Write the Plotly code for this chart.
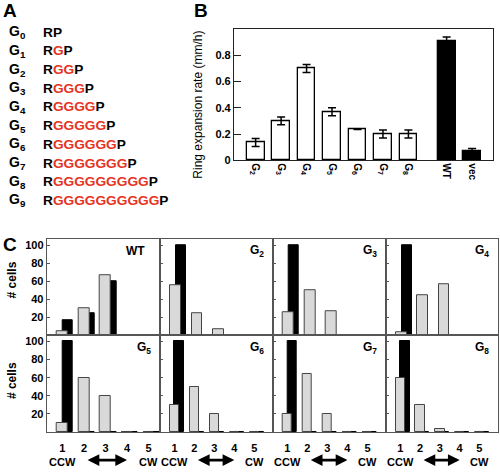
import plotly.graph_objects as go

W, H = 500, 472
FONT = "Liberation Sans, Arial, sans-serif"
RED = "#e53323"

# ---------------- Panel A data ----------------
construct_names = ["G0", "G1", "G2", "G3", "G4", "G5", "G6", "G7", "G8", "G9"]
glycine_counts = [0, 1, 2, 3, 4, 5, 6, 7, 9, 10]

# ---------------- Panel B data ----------------
b_categories = ["G2", "G3", "G4", "G5", "G6", "G7", "G8", "WT", "vec"]
b_labels = ["G<sub>2</sub>", "G<sub>3</sub>", "G<sub>4</sub>", "G<sub>5</sub>",
            "G<sub>6</sub>", "G<sub>7</sub>", "G<sub>8</sub>", "WT", "vec"]
b_rates = [0.135, 0.30, 0.70, 0.37, 0.235, 0.20, 0.20, 0.905, 0.07]
b_errors = [0.03, 0.03, 0.03, 0.03, 0.0, 0.03, 0.03, 0.035, 0.02]
b_is_control = [False, False, False, False, False, False, False, True, True]

# ---------------- Panel C data ----------------
c_panels = ["WT", "G<sub>2</sub>", "G<sub>3</sub>", "G<sub>4</sub>",
            "G<sub>5</sub>", "G<sub>6</sub>", "G<sub>7</sub>", "G<sub>8</sub>"]
c_bins = [1, 2, 3, 4, 5]
c_gray = [
    [4, 30, 67, 0, 0],
    [56, 24, 7, 0, 0],
    [26, 50, 27, 0, 0],
    [3, 44, 57, 0, 0],
    [10, 60, 40, 0, 0],
    [30, 50, 20, 0, 0],
    [20, 64, 20, 0, 0],
    [60, 30, 3, 0, 0],
]
c_black = [
    [17, 24, 60, 0, 0],
    [100, 0, 0, 0, 0],
    [100, 0, 0, 0, 0],
    [100, 0, 0, 0, 0],
    [100, 0, 0, 0, 0],
    [100, 0, 0, 0, 0],
    [100, 0, 0, 0, 0],
    [100, 0, 0, 0, 0],
]
c_yticks = [20, 40, 60, 80, 100]


def px(x):
    return x / W


def py(y):
    return 1 - y / H


fig = go.Figure()
annotations = []

# ---------------- Panel A ----------------
annotations.append(dict(text="A", x=px(1), y=py(11), xref="paper", yref="paper",
                        xanchor="left", yanchor="middle", showarrow=False,
                        font=dict(family=FONT, size=19, color="black", weight="bold")))
row0, drow = 32.5, 18.95
for i, (name, n) in enumerate(zip(construct_names, glycine_counts)):
    yy = py(row0 + drow * i)
    annotations.append(dict(text="G<sub>%s</sub>" % name[1:], x=px(7), y=yy,
                            xref="paper", yref="paper", xanchor="left", yanchor="middle",
                            showarrow=False,
                            font=dict(family=FONT, size=14, color="black", weight="bold")))
    seq = "R" + ("<span style='color:%s'>%s</span>" % (RED, "G" * n) if n else "") + "P"
    annotations.append(dict(text=seq, x=px(41), y=yy, xref="paper", yref="paper",
                            xanchor="left", yanchor="middle", showarrow=False,
                            font=dict(family=FONT, size=13.7, color="black", weight="bold")))

# ---------------- Panel B ----------------
b_pos = []
shift = 0.0
for i, c in enumerate(b_is_control):
    if c and (i == 0 or not b_is_control[i - 1]):
        shift = 0.5
    b_pos.append(i + shift)

fig.add_trace(go.Bar(
    x=b_pos, y=b_rates, width=0.7,
    marker=dict(color=["black" if c else "white" for c in b_is_control],
                line=dict(color="black", width=1.3)),
    error_y=dict(type="data", array=b_errors, visible=True, color="black",
                 thickness=1.5, width=4),
    xaxis="x", yaxis="y", showlegend=False))

fig.update_layout(
    xaxis=dict(domain=[px(234), px(492.7)], range=[-0.85, 9.31], anchor="y",
               tickvals=b_pos, ticktext=b_labels, tickangle=90, ticks="",
               tickfont=dict(family=FONT, size=10, color="black", weight="bold"),
               showline=True, mirror=True, linecolor="#222", linewidth=1.2,
               showgrid=False, zeroline=False),
    yaxis=dict(domain=[py(162.3), py(29.5)], range=[0, 1.0], anchor="x",
               tickvals=[0, 0.2, 0.4, 0.6, 0.8], ticktext=["0", "0.2", "0.4", "0.6", "0.8"],
               ticks="inside", ticklen=7, tickcolor="#222", tickwidth=1.2,
               tickfont=dict(family=FONT, size=11, color="black", weight="bold"),
               showline=True, mirror=True, linecolor="#222", linewidth=1.2,
               showgrid=False, zeroline=False),
)
annotations.append(dict(text="B", x=px(192), y=py(11), xref="paper", yref="paper",
                        xanchor="left", yanchor="middle", showarrow=False,
                        font=dict(family=FONT, size=19, color="black", weight="bold")))
annotations.append(dict(text="Ring expansion rate (mm/h)", x=px(198), y=py(106),
                        xref="paper", yref="paper", xanchor="center", yanchor="middle",
                        textangle=-90, showarrow=False,
                        font=dict(family=FONT, size=12, color="black")))

# ---------------- Panel C ----------------
col_edges = [46.7, 160, 272.7, 386, 497.7]
row_edges = [242.3, 339.3, 437.7]
layout_axes = {}
for k in range(8):
    r, c = divmod(k, 4)
    ax = k + 2
    xa, ya = "x%d" % ax, "y%d" % ax
    narrow = (r == 1 and c > 0)
    bw = 0.47 if narrow else 0.5
    xr = [0.275, 5.925] if narrow else [0.27, 5.53]
    fig.add_trace(go.Bar(x=c_bins, y=c_black[k], width=bw, offset=0.0,
                         marker=dict(color="black", line=dict(color="black", width=1)),
                         xaxis=xa, yaxis=ya, showlegend=False))
    fig.add_trace(go.Bar(x=c_bins, y=c_gray[k], width=bw, offset=-bw / 2,
                         marker=dict(color="#d9d9d9", line=dict(color="#444", width=1)),
                         xaxis=xa, yaxis=ya, showlegend=False))
    layout_axes["xaxis%d" % ax] = dict(
        domain=[px(col_edges[c]), px(col_edges[c + 1])], range=xr, anchor=ya,
        tickvals=c_bins, ticks="", showticklabels=(r == 1), ticklabelstandoff=6,
        tickfont=dict(family=FONT, size=11, color="black", weight="bold"),
        showline=True, mirror=True, linecolor="#555", linewidth=1,
        showgrid=False, zeroline=False)
    layout_axes["yaxis%d" % ax] = dict(
        domain=[py(row_edges[r + 1]), py(row_edges[r])], range=[0, 107], anchor=xa,
        tickvals=c_yticks, ticks="inside", ticklen=3, tickcolor="#555",
        showticklabels=(c == 0),
        tickfont=dict(family=FONT, size=11, color="black", weight="bold"),
        showline=True, mirror=True, linecolor="#555", linewidth=1,
        showgrid=False, zeroline=False)
    annotations.append(dict(text=c_panels[k], x=0.885 if k == 0 else 0.94,
                            y=0.88 if r == 0 else 0.865,
                            xref="%s domain" % xa, yref="%s domain" % ya,
                            xanchor="right", yanchor="middle", showarrow=False,
                            font=dict(family=FONT, size=12, color="black", weight="bold")))
    if r == 1:
        annotations.append(dict(text="CCW", x=1, y=py(468), xref=xa, yref="paper",
                                xanchor="center", yanchor="middle", showarrow=False,
                                font=dict(family=FONT, size=11, color="black", weight="bold")))
        annotations.append(dict(text="CW", x=5, y=py(468), xref=xa, yref="paper",
                                xanchor="center", yanchor="middle", showarrow=False,
                                font=dict(family=FONT, size=11, color="black", weight="bold")))
        annotations.append(dict(text="", x=4.0, y=py(466), xref=xa, yref="paper",
                                ax=2.1, ay=0, axref=xa, ayref="pixel",
                                showarrow=True, arrowhead=2, arrowside="end+start",
                                arrowsize=0.9, arrowwidth=2.6, arrowcolor="black"))

for r in range(2):
    yc = 284 if r == 0 else 386
    annotations.append(dict(text="# cells", x=px(12), y=py(yc), xref="paper", yref="paper",
                            xanchor="center", yanchor="middle", textangle=-90,
                            showarrow=False,
                            font=dict(family=FONT, size=12, color="black", weight="bold")))
annotations.append(dict(text="C", x=px(1), y=py(248), xref="paper", yref="paper",
                        xanchor="left", yanchor="middle", showarrow=False,
                        font=dict(family=FONT, size=19, color="black", weight="bold")))

fig.update_layout(**layout_axes)
fig.update_layout(
    width=W, height=H, margin=dict(l=0, r=0, t=0, b=0),
    paper_bgcolor="white", plot_bgcolor="white",
    barmode="overlay", bargap=0, showlegend=False,
    annotations=annotations,
)

fig.write_html("out.html", config={"displayModeBar": False},
               post_script="document.body.style.margin='0px';document.body.style.padding='0px';")
